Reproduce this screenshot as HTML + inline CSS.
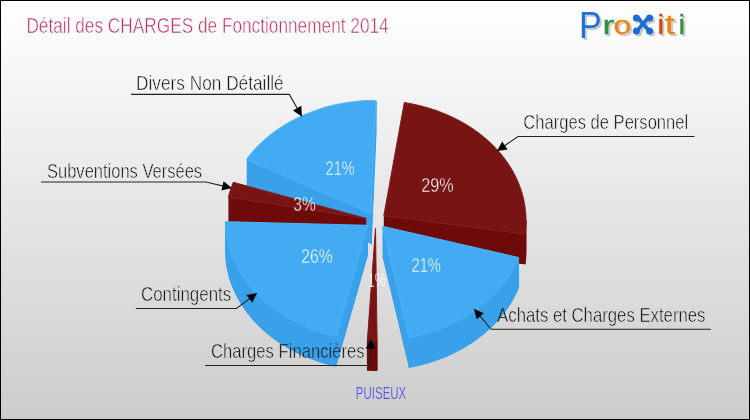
<!DOCTYPE html>
<html lang="fr">
<head>
<meta charset="utf-8">
<title>Détail des CHARGES de Fonctionnement 2014 - PUISEUX</title>
<style>
html,body{margin:0;padding:0;background:#fff;}
body{width:750px;height:420px;overflow:hidden;}
svg{display:block;font-family:"Liberation Sans",sans-serif;}
text{white-space:pre;}
.thin{stroke:url(#bgp);stroke-width:0.55px;}
.w{stroke:url(#bgp);stroke-width:0.4px;}
.thin2{stroke:url(#bgp);stroke-width:0.2px;}
</style>
</head>
<body>
<svg width="750" height="420" viewBox="0 0 750 420">
<defs>
<filter id="lsh" x="-5%" y="-20%" width="110%" height="150%" color-interpolation-filters="sRGB">
<feGaussianBlur in="SourceAlpha" stdDeviation="0.6" result="b"/>
<feOffset in="b" dx="1.6" dy="1.6" result="o"/>
<feFlood flood-color="#000" flood-opacity="0.2"/>
<feComposite in2="o" operator="in" result="s"/>
<feMerge><feMergeNode in="s"/><feMergeNode in="SourceGraphic"/></feMerge>
</filter>
<pattern id="bgp" patternUnits="userSpaceOnUse" x="0" y="0" width="750" height="420">
<use href="#bgrect"/><use href="#pie"/>
</pattern>
<linearGradient id="bg" gradientUnits="userSpaceOnUse" x1="0" y1="0" x2="0" y2="420">
<stop offset="0" stop-color="#ffffff"/><stop offset="1" stop-color="#cccccc"/>
</linearGradient>
</defs>
<rect id="bgrect" x="0" y="0" width="750" height="420" fill="url(#bg)"/>
<rect x="0.5" y="0.5" width="749" height="419" fill="none" stroke="#000" stroke-width="1"/>
<g id="pie">
<polygon points="370.8,243.5 375.8,130.4 374.7,130.4 373.6,130.4 372.6,130.4 371.5,130.4 370.5,130.4 369.4,130.5 368.4,130.5 367.3,130.5 366.3,130.6 365.2,130.6 364.1,130.7 363.1,130.8 362.0,130.9 361.0,130.9 359.9,131.0 358.9,131.1 357.8,131.2 356.8,131.3 355.7,131.4 354.7,131.5 353.6,131.7 352.6,131.8 351.6,131.9 350.5,132.1 349.5,132.2 348.4,132.3 347.4,132.5 346.4,132.7 345.3,132.8 344.3,133.0 343.3,133.2 342.2,133.4 341.2,133.6 340.2,133.8 339.2,134.0 338.1,134.2 337.1,134.4 336.1,134.6 335.1,134.8 334.1,135.1 333.0,135.3 332.0,135.5 331.0,135.8 330.0,136.0 329.0,136.3 328.0,136.6 327.0,136.8 326.0,137.1 325.0,137.4 324.0,137.7 323.0,138.0 322.0,138.3 321.1,138.6 320.1,138.9 319.1,139.2 318.1,139.5 317.1,139.9 316.2,140.2 315.2,140.5 314.2,140.9 313.3,141.2 312.3,141.6 311.4,141.9 310.4,142.3 309.5,142.7 308.5,143.0 307.6,143.4 306.6,143.8 305.7,144.2 304.8,144.6 303.8,145.0 302.9,145.4 302.0,145.8 301.1,146.2 300.2,146.7 299.2,147.1 298.3,147.5 297.4,148.0 296.5,148.4 295.6,148.8 294.7,149.3 293.9,149.7 293.0,150.2 292.1,150.7 291.2,151.2 290.3,151.6 289.5,152.1 288.6,152.6 287.8,153.1 286.9,153.6 286.1,154.1 285.2,154.6 284.4,155.1 283.5,155.6 282.7,156.1 281.9,156.7 281.1,157.2 280.2,157.7 279.4,158.3 278.6,158.8 277.8,159.4 277.0,159.9 276.2,160.5 275.4,161.0 274.6,161.6 273.9,162.2 273.1,162.7 272.3,163.3 271.6,163.9 270.8,164.5 270.0,165.1 269.3,165.7 268.6,166.3 267.8,166.9 267.1,167.5 266.4,168.1 265.6,168.7 264.9,169.3 264.2,170.0 263.5,170.6 262.8,171.2 262.1,171.9 261.4,172.5 260.7,173.1 260.1,173.8 259.4,174.4 258.7,175.1 258.1,175.8 257.4,176.4 256.8,177.1 256.1,177.8 255.5,178.4 254.9,179.1 254.2,179.8 253.6,180.5 253.0,181.2 252.4,181.9 251.8,182.5 251.2,183.2 250.6,183.9 250.0,184.7 249.5,185.4 248.9,186.1 248.3,186.8 247.8,187.5 247.2,188.2 246.7,188.9 246.6,189.1" fill="#2e97e0"/>
<polygon points="366.1,248.4 233.3,212.3 232.9,213.1 232.6,213.9 232.3,214.7 232.0,215.5 231.7,216.3 231.4,217.1 231.1,218.0 230.8,218.8 230.5,219.6 230.3,220.4 230.0,221.2 229.8,222.0 229.5,222.9 229.3,223.7 229.0,224.5 228.8,225.3 228.6,226.2 228.4,227.0 228.3,227.3" fill="#640000"/>
<polygon points="367.8,255.3 225.5,251.7 225.5,252.5 225.5,253.3 225.6,254.2 225.6,255.0 225.7,255.9 225.7,256.7 225.8,257.6 225.8,258.4 225.9,259.2 226.0,260.1 226.1,260.9 226.2,261.8 226.3,262.6 226.4,263.4 226.5,264.3 226.6,265.1 226.8,266.0 226.9,266.8 227.1,267.6 227.2,268.5 227.4,269.3 227.5,270.1 227.7,271.0 227.9,271.8 228.1,272.6 228.3,273.5 228.5,274.3 228.7,275.1 228.9,275.9 229.2,276.8 229.4,277.6 229.6,278.4 229.9,279.2 230.2,280.0 230.4,280.9 230.7,281.7 231.0,282.5 231.3,283.3 231.5,284.1 231.8,284.9 232.2,285.7 232.5,286.5 232.8,287.3 233.1,288.1 233.5,288.9 233.8,289.7 234.1,290.5 234.5,291.3 234.9,292.1 235.2,292.9 235.6,293.7 236.0,294.5 236.4,295.3 236.8,296.1 237.2,296.8 237.6,297.6 238.0,298.4 238.4,299.2 238.9,299.9 239.3,300.7 239.8,301.5 240.2,302.2 240.7,303.0 241.1,303.7 241.6,304.5 242.1,305.2 242.6,306.0 243.1,306.7 243.6,307.5 244.1,308.2 244.6,309.0 245.1,309.7 245.6,310.4 246.2,311.2 246.7,311.9 247.2,312.6 247.8,313.3 248.4,314.0 248.9,314.8 249.5,315.5 250.1,316.2 250.6,316.9 251.2,317.6 251.8,318.3 252.4,319.0 253.0,319.7 253.6,320.4 254.3,321.0 254.9,321.7 255.5,322.4 256.2,323.1 256.8,323.7 257.4,324.4 258.1,325.1 258.8,325.7 259.4,326.4 260.1,327.0 260.8,327.7 261.5,328.3 262.1,329.0 262.8,329.6 263.5,330.2 264.2,330.9 265.0,331.5 265.7,332.1 266.4,332.7 267.1,333.3 267.9,333.9 268.6,334.5 269.3,335.1 270.1,335.7 270.8,336.3 271.6,336.9 272.4,337.5 273.1,338.1 273.9,338.7 274.7,339.2 275.5,339.8 276.3,340.4 277.0,340.9 277.8,341.5 278.6,342.0 279.5,342.6 280.3,343.1 281.1,343.6 281.9,344.2 282.7,344.7 283.6,345.2 284.4,345.7 285.2,346.2 286.1,346.7 286.9,347.2 287.8,347.7 288.7,348.2 289.5,348.7 290.4,349.2 291.3,349.7 292.1,350.1 293.0,350.6 293.9,351.1 294.8,351.5 295.7,352.0 296.6,352.4 297.5,352.9 298.4,353.3 299.3,353.7 300.2,354.2 301.1,354.6 302.0,355.0 302.9,355.4 303.9,355.8 304.8,356.2 305.7,356.6 306.7,357.0 307.6,357.4 308.6,357.8 309.5,358.1 310.5,358.5 311.4,358.9 312.4,359.2 313.3,359.6 314.3,359.9 315.2,360.3 316.2,360.6 317.2,361.0 318.2,361.3 319.1,361.6 320.1,361.9 321.1,362.2 322.1,362.5 323.1,362.8 324.1,363.1 325.1,363.4 326.1,363.7 327.0,364.0 328.0,364.2 329.1,364.5 330.1,364.8 331.1,365.0 332.1,365.3 333.1,365.5 334.1,365.7 335.1,366.0 336.1,366.2" fill="#2e97e0"/>
<polygon points="375.5,258.4 367.4,370.3 368.4,370.3 369.5,370.3 370.5,370.4 371.6,370.4 372.6,370.4 373.7,370.4 374.8,370.4 375.8,370.4 376.9,370.4 377.1,370.4" fill="#640000"/>
<polygon points="382.5,256.3 409.0,367.5 410.1,367.3 411.1,367.1 412.1,366.9 413.1,366.7 414.2,366.5 415.2,366.2 416.2,366.0 417.2,365.8 418.2,365.6 419.2,365.3 420.3,365.1 421.3,364.8 422.3,364.6 423.3,364.3 424.3,364.0 425.3,363.7 426.3,363.5 427.3,363.2 428.3,362.9 429.2,362.6 430.2,362.3 431.2,362.0 432.2,361.7 433.2,361.3 434.1,361.0 435.1,360.7 436.1,360.3 437.0,360.0 438.0,359.7 439.0,359.3 439.9,358.9 440.9,358.6 441.8,358.2 442.8,357.8 443.7,357.5 444.7,357.1 445.6,356.7 446.5,356.3 447.5,355.9 448.4,355.5 449.3,355.1 450.2,354.7 451.1,354.2 452.1,353.8 453.0,353.4 453.9,352.9 454.8,352.5 455.7,352.1 456.6,351.6 457.4,351.2 458.3,350.7 459.2,350.2 460.1,349.8 461.0,349.3 461.8,348.8 462.7,348.3 463.6,347.8 464.4,347.3 465.3,346.8 466.1,346.3 466.9,345.8 467.8,345.3 468.6,344.8 469.4,344.3 470.3,343.7 471.1,343.2 471.9,342.7 472.7,342.1 473.5,341.6 474.3,341.0 475.1,340.5 475.9,339.9 476.7,339.3 477.5,338.8 478.2,338.2 479.0,337.6 479.8,337.0 480.5,336.4 481.3,335.8 482.0,335.3 482.8,334.7 483.5,334.1 484.3,333.4 485.0,332.8 485.7,332.2 486.4,331.6 487.1,331.0 487.8,330.3 488.5,329.7 489.2,329.1 489.9,328.4 490.6,327.8 491.3,327.2 492.0,326.5 492.6,325.8 493.3,325.2 493.9,324.5 494.6,323.9 495.2,323.2 495.9,322.5 496.5,321.8 497.1,321.2 497.7,320.5 498.4,319.8 499.0,319.1 499.6,318.4 500.2,317.7 500.8,317.0 501.3,316.3 501.9,315.6 502.5,314.9 503.0,314.2 503.6,313.5 504.2,312.7 504.7,312.0 505.2,311.3 505.8,310.6 506.3,309.8 506.8,309.1 507.3,308.4 507.8,307.6 508.3,306.9 508.8,306.1 509.3,305.4 509.8,304.6 510.3,303.9 510.7,303.1 511.2,302.4 511.7,301.6 512.1,300.8 512.5,300.1 513.0,299.3 513.4,298.5 513.8,297.7 514.2,297.0 514.6,296.2 515.0,295.4 515.4,294.6 515.8,293.8 516.2,293.1 516.6,292.3 516.9,291.5 517.3,290.7 517.6,289.9 518.0,289.1 518.3,288.3 518.6,287.5" fill="#2e97e0"/>
<polygon points="383.8,245.7 525.0,264.2 525.1,263.4 525.2,262.5 525.3,261.7 525.4,260.8 525.5,260.0 525.6,259.2 525.7,258.3 525.7,257.5 525.8,256.6 525.8,255.8 525.9,254.9 525.9,254.1 526.0,253.3 526.0,252.4 526.0,251.6 526.0,250.7 526.0,249.9 526.0,249.0 526.0,248.2 526.0,247.4 525.9,246.5 525.9,245.7 525.8,244.8 525.8,244.0 525.7,243.1 525.7,242.3 525.6,241.5 525.5,240.6 525.4,239.8 525.3,238.9 525.2,238.1 525.1,237.2 525.0,236.4 524.8,235.6 524.7,234.7 524.6,233.9 524.4,233.1 524.3,232.2 524.1,231.4 523.9,230.6 523.8,229.7 523.6,228.9 523.4,228.1 523.2,227.2 523.0,226.4 522.8,225.6 522.5,224.8 522.3,223.9 522.1,223.1 521.8,222.3 521.6,221.5 521.3,220.7 521.1,219.8 520.8,219.0 520.5,218.2 520.2,217.4 519.9,216.6 519.6,215.8 519.3,215.0 519.0,214.2 518.7,213.4 518.3,212.6 518.0,211.8 517.7,211.0 517.3,210.2 517.0,209.4 516.6,208.6 516.2,207.8 515.8,207.0 515.5,206.2 515.1,205.4 514.7,204.7 514.3,203.9 513.8,203.1 513.4,202.3 513.0,201.5 512.6,200.8 512.1,200.0 511.7,199.2 511.2,198.5 510.8,197.7 510.3,197.0 509.8,196.2 509.3,195.5 508.9,194.7 508.4,194.0 507.9,193.2 507.4,192.5 506.8,191.7 506.3,191.0 505.8,190.3 505.3,189.5 504.7,188.8 504.2,188.1 503.6,187.4 503.1,186.7 502.5,186.0 501.9,185.2 501.4,184.5 500.8,183.8 500.2,183.1 499.6,182.4 499.0,181.7 498.4,181.0 497.8,180.4 497.2,179.7 496.5,179.0 495.9,178.3 495.3,177.6 494.6,177.0 494.0,176.3 493.3,175.6 492.7,175.0 492.0,174.3 491.3,173.7 490.6,173.0 490.0,172.4 489.3,171.8 488.6,171.1 487.9,170.5 487.2,169.9 486.5,169.2 485.7,168.6 485.0,168.0 484.3,167.4 483.6,166.8 482.8,166.2 482.1,165.6 481.3,165.0 480.6,164.4 479.8,163.8 479.0,163.2 478.3,162.6 477.5,162.1 476.7,161.5 475.9,160.9 475.1,160.4 474.4,159.8 473.6,159.3 472.8,158.7 471.9,158.2 471.1,157.6 470.3,157.1 469.5,156.6 468.7,156.1 467.8,155.5 467.0,155.0 466.1,154.5 465.3,154.0 464.5,153.5 463.6,153.0 462.7,152.5 461.9,152.0 461.0,151.5 460.1,151.1 459.3,150.6 458.4,150.1 457.5,149.7 456.6,149.2 455.7,148.8 454.8,148.3 453.9,147.9 453.0,147.4 452.1,147.0 451.2,146.6 450.3,146.2 449.4,145.7 448.4,145.3 447.5,144.9 446.6,144.5 445.6,144.1 444.7,143.7 443.8,143.4 442.8,143.0 441.9,142.6 440.9,142.2 440.0,141.9 439.0,141.5 438.1,141.2 437.1,140.8 436.1,140.5 435.2,140.1 434.2,139.8 433.2,139.5 432.2,139.2 431.3,138.8 430.3,138.5 429.3,138.2 428.3,137.9 427.3,137.6 426.3,137.4 425.3,137.1 424.3,136.8 423.3,136.5 422.3,136.3 421.3,136.0 420.3,135.8 419.3,135.5 418.3,135.3 417.3,135.0 416.3,134.8 415.2,134.6 414.2,134.4 413.2,134.1 412.2,133.9 411.1,133.7 410.1,133.5 409.1,133.3 408.1,133.2 407.0,133.0 406.0,132.8 405.0,132.6 404.3,132.5" fill="#640000"/>
<polygon points="383.8,245.7 383.8,215.7 525.0,234.2 525.0,264.2" fill="#6e0a0a"/>
<polygon points="382.5,256.3 382.5,226.3 409.0,337.5 409.0,367.5" fill="#38a1ea"/>
<polygon points="375.5,258.4 375.5,228.4 367.4,340.3 367.4,370.3" fill="#6e0a0a"/>
<polygon points="367.8,255.3 367.8,225.3 225.5,221.7 225.5,251.7" fill="#38a1ea"/>
<polygon points="366.1,248.4 366.1,218.4 233.3,182.3 233.3,212.3" fill="#6e0a0a"/>
<polygon points="371.2,244.5 371.2,214.5 376.1,101.4 376.1,131.4" fill="#38a1ea" stroke="#38a1ea"/>
<polygon points="370.9,243.5 370.9,213.5 246.7,159.1 246.7,189.1" fill="#38a1ea"/>
<polygon points="366.2,248.4 366.2,218.4 228.4,197.3 228.4,227.3" fill="#6e0a0a"/>
<polygon points="367.9,255.3 367.9,225.3 336.2,336.2 336.2,366.2" fill="#38a1ea"/>
<polygon points="225.5,221.7 225.5,222.5 225.5,223.3 225.6,224.2 225.6,225.0 225.7,225.9 225.7,226.7 225.8,227.6 225.8,228.4 225.9,229.2 226.0,230.1 226.1,230.9 226.2,231.8 226.3,232.6 226.4,233.4 226.5,234.3 226.6,235.1 226.8,236.0 226.9,236.8 227.1,237.6 227.2,238.5 227.4,239.3 227.5,240.1 227.7,241.0 227.9,241.8 228.1,242.6 228.3,243.5 228.5,244.3 228.7,245.1 228.9,245.9 229.2,246.8 229.4,247.6 229.6,248.4 229.9,249.2 230.2,250.0 230.4,250.9 230.7,251.7 231.0,252.5 231.3,253.3 231.5,254.1 231.8,254.9 232.2,255.7 232.5,256.5 232.8,257.3 233.1,258.1 233.5,258.9 233.8,259.7 234.1,260.5 234.5,261.3 234.9,262.1 235.2,262.9 235.6,263.7 236.0,264.5 236.4,265.3 236.8,266.1 237.2,266.8 237.6,267.6 238.0,268.4 238.4,269.2 238.9,269.9 239.3,270.7 239.8,271.5 240.2,272.2 240.7,273.0 241.1,273.7 241.6,274.5 242.1,275.2 242.6,276.0 243.1,276.7 243.6,277.5 244.1,278.2 244.6,279.0 245.1,279.7 245.6,280.4 246.2,281.2 246.7,281.9 247.2,282.6 247.8,283.3 248.4,284.0 248.9,284.8 249.5,285.5 250.1,286.2 250.6,286.9 251.2,287.6 251.8,288.3 252.4,289.0 253.0,289.7 253.6,290.4 254.3,291.0 254.9,291.7 255.5,292.4 256.2,293.1 256.8,293.7 257.4,294.4 258.1,295.1 258.8,295.7 259.4,296.4 260.1,297.0 260.8,297.7 261.5,298.3 262.1,299.0 262.8,299.6 263.5,300.2 264.2,300.9 265.0,301.5 265.7,302.1 266.4,302.7 267.1,303.3 267.9,303.9 268.6,304.5 269.3,305.1 270.1,305.7 270.8,306.3 271.6,306.9 272.4,307.5 273.1,308.1 273.9,308.7 274.7,309.2 275.5,309.8 276.3,310.4 277.0,310.9 277.8,311.5 278.6,312.0 279.5,312.6 280.3,313.1 281.1,313.6 281.9,314.2 282.7,314.7 283.6,315.2 284.4,315.7 285.2,316.2 286.1,316.7 286.9,317.2 287.8,317.7 288.7,318.2 289.5,318.7 290.4,319.2 291.3,319.7 292.1,320.1 293.0,320.6 293.9,321.1 294.8,321.5 295.7,322.0 296.6,322.4 297.5,322.9 298.4,323.3 299.3,323.7 300.2,324.2 301.1,324.6 302.0,325.0 302.9,325.4 303.9,325.8 304.8,326.2 305.7,326.6 306.7,327.0 307.6,327.4 308.6,327.8 309.5,328.1 310.5,328.5 311.4,328.9 312.4,329.2 313.3,329.6 314.3,329.9 315.2,330.3 316.2,330.6 317.2,331.0 318.2,331.3 319.1,331.6 320.1,331.9 321.1,332.2 322.1,332.5 323.1,332.8 324.1,333.1 325.1,333.4 326.1,333.7 327.0,334.0 328.0,334.2 329.1,334.5 330.1,334.8 331.1,335.0 332.1,335.3 333.1,335.5 334.1,335.7 335.1,336.0 336.1,336.2 336.1,366.2 335.1,366.0 334.1,365.7 333.1,365.5 332.1,365.3 331.1,365.0 330.1,364.8 329.1,364.5 328.0,364.2 327.0,364.0 326.1,363.7 325.1,363.4 324.1,363.1 323.1,362.8 322.1,362.5 321.1,362.2 320.1,361.9 319.1,361.6 318.2,361.3 317.2,361.0 316.2,360.6 315.2,360.3 314.3,359.9 313.3,359.6 312.4,359.2 311.4,358.9 310.5,358.5 309.5,358.1 308.6,357.8 307.6,357.4 306.7,357.0 305.7,356.6 304.8,356.2 303.9,355.8 302.9,355.4 302.0,355.0 301.1,354.6 300.2,354.2 299.3,353.7 298.4,353.3 297.5,352.9 296.6,352.4 295.7,352.0 294.8,351.5 293.9,351.1 293.0,350.6 292.1,350.1 291.3,349.7 290.4,349.2 289.5,348.7 288.7,348.2 287.8,347.7 286.9,347.2 286.1,346.7 285.2,346.2 284.4,345.7 283.6,345.2 282.7,344.7 281.9,344.2 281.1,343.6 280.3,343.1 279.5,342.6 278.6,342.0 277.8,341.5 277.0,340.9 276.3,340.4 275.5,339.8 274.7,339.2 273.9,338.7 273.1,338.1 272.4,337.5 271.6,336.9 270.8,336.3 270.1,335.7 269.3,335.1 268.6,334.5 267.9,333.9 267.1,333.3 266.4,332.7 265.7,332.1 265.0,331.5 264.2,330.9 263.5,330.2 262.8,329.6 262.1,329.0 261.5,328.3 260.8,327.7 260.1,327.0 259.4,326.4 258.8,325.7 258.1,325.1 257.4,324.4 256.8,323.7 256.2,323.1 255.5,322.4 254.9,321.7 254.3,321.0 253.6,320.4 253.0,319.7 252.4,319.0 251.8,318.3 251.2,317.6 250.6,316.9 250.1,316.2 249.5,315.5 248.9,314.8 248.4,314.0 247.8,313.3 247.2,312.6 246.7,311.9 246.2,311.2 245.6,310.4 245.1,309.7 244.6,309.0 244.1,308.2 243.6,307.5 243.1,306.7 242.6,306.0 242.1,305.2 241.6,304.5 241.1,303.7 240.7,303.0 240.2,302.2 239.8,301.5 239.3,300.7 238.9,299.9 238.4,299.2 238.0,298.4 237.6,297.6 237.2,296.8 236.8,296.1 236.4,295.3 236.0,294.5 235.6,293.7 235.2,292.9 234.9,292.1 234.5,291.3 234.1,290.5 233.8,289.7 233.5,288.9 233.1,288.1 232.8,287.3 232.5,286.5 232.2,285.7 231.8,284.9 231.5,284.1 231.3,283.3 231.0,282.5 230.7,281.7 230.4,280.9 230.2,280.0 229.9,279.2 229.6,278.4 229.4,277.6 229.2,276.8 228.9,275.9 228.7,275.1 228.5,274.3 228.3,273.5 228.1,272.6 227.9,271.8 227.7,271.0 227.5,270.1 227.4,269.3 227.2,268.5 227.1,267.6 226.9,266.8 226.8,266.0 226.6,265.1 226.5,264.3 226.4,263.4 226.3,262.6 226.2,261.8 226.1,260.9 226.0,260.1 225.9,259.2 225.8,258.4 225.8,257.6 225.7,256.7 225.7,255.9 225.6,255.0 225.6,254.2 225.5,253.3 225.5,252.5 225.5,251.7" fill="#38a1ea" stroke="#38a1ea"/>
<polygon points="367.4,340.3 368.4,340.3 369.5,340.3 370.5,340.4 371.6,340.4 372.6,340.4 373.7,340.4 374.8,340.4 375.8,340.4 376.9,340.4 377.1,340.4 377.1,370.4 376.9,370.4 375.8,370.4 374.8,370.4 373.7,370.4 372.6,370.4 371.6,370.4 370.5,370.4 369.5,370.3 368.4,370.3 367.4,370.3" fill="#6e0a0a" stroke="#6e0a0a"/>
<polygon points="409.0,337.5 410.1,337.3 411.1,337.1 412.1,336.9 413.1,336.7 414.2,336.5 415.2,336.2 416.2,336.0 417.2,335.8 418.2,335.6 419.2,335.3 420.3,335.1 421.3,334.8 422.3,334.6 423.3,334.3 424.3,334.0 425.3,333.7 426.3,333.5 427.3,333.2 428.3,332.9 429.2,332.6 430.2,332.3 431.2,332.0 432.2,331.7 433.2,331.3 434.1,331.0 435.1,330.7 436.1,330.3 437.0,330.0 438.0,329.7 439.0,329.3 439.9,328.9 440.9,328.6 441.8,328.2 442.8,327.8 443.7,327.5 444.7,327.1 445.6,326.7 446.5,326.3 447.5,325.9 448.4,325.5 449.3,325.1 450.2,324.7 451.1,324.2 452.1,323.8 453.0,323.4 453.9,322.9 454.8,322.5 455.7,322.1 456.6,321.6 457.4,321.2 458.3,320.7 459.2,320.2 460.1,319.8 461.0,319.3 461.8,318.8 462.7,318.3 463.6,317.8 464.4,317.3 465.3,316.8 466.1,316.3 466.9,315.8 467.8,315.3 468.6,314.8 469.4,314.3 470.3,313.7 471.1,313.2 471.9,312.7 472.7,312.1 473.5,311.6 474.3,311.0 475.1,310.5 475.9,309.9 476.7,309.3 477.5,308.8 478.2,308.2 479.0,307.6 479.8,307.0 480.5,306.4 481.3,305.8 482.0,305.3 482.8,304.7 483.5,304.1 484.3,303.4 485.0,302.8 485.7,302.2 486.4,301.6 487.1,301.0 487.8,300.3 488.5,299.7 489.2,299.1 489.9,298.4 490.6,297.8 491.3,297.2 492.0,296.5 492.6,295.8 493.3,295.2 493.9,294.5 494.6,293.9 495.2,293.2 495.9,292.5 496.5,291.8 497.1,291.2 497.7,290.5 498.4,289.8 499.0,289.1 499.6,288.4 500.2,287.7 500.8,287.0 501.3,286.3 501.9,285.6 502.5,284.9 503.0,284.2 503.6,283.5 504.2,282.7 504.7,282.0 505.2,281.3 505.8,280.6 506.3,279.8 506.8,279.1 507.3,278.4 507.8,277.6 508.3,276.9 508.8,276.1 509.3,275.4 509.8,274.6 510.3,273.9 510.7,273.1 511.2,272.4 511.7,271.6 512.1,270.8 512.5,270.1 513.0,269.3 513.4,268.5 513.8,267.7 514.2,267.0 514.6,266.2 515.0,265.4 515.4,264.6 515.8,263.8 516.2,263.1 516.6,262.3 516.9,261.5 517.3,260.7 517.6,259.9 518.0,259.1 518.3,258.3 518.6,257.5 518.6,287.5 518.3,288.3 518.0,289.1 517.6,289.9 517.3,290.7 516.9,291.5 516.6,292.3 516.2,293.1 515.8,293.8 515.4,294.6 515.0,295.4 514.6,296.2 514.2,297.0 513.8,297.7 513.4,298.5 513.0,299.3 512.5,300.1 512.1,300.8 511.7,301.6 511.2,302.4 510.7,303.1 510.3,303.9 509.8,304.6 509.3,305.4 508.8,306.1 508.3,306.9 507.8,307.6 507.3,308.4 506.8,309.1 506.3,309.8 505.8,310.6 505.2,311.3 504.7,312.0 504.2,312.7 503.6,313.5 503.0,314.2 502.5,314.9 501.9,315.6 501.3,316.3 500.8,317.0 500.2,317.7 499.6,318.4 499.0,319.1 498.4,319.8 497.7,320.5 497.1,321.2 496.5,321.8 495.9,322.5 495.2,323.2 494.6,323.9 493.9,324.5 493.3,325.2 492.6,325.8 492.0,326.5 491.3,327.2 490.6,327.8 489.9,328.4 489.2,329.1 488.5,329.7 487.8,330.3 487.1,331.0 486.4,331.6 485.7,332.2 485.0,332.8 484.3,333.4 483.5,334.1 482.8,334.7 482.0,335.3 481.3,335.8 480.5,336.4 479.8,337.0 479.0,337.6 478.2,338.2 477.5,338.8 476.7,339.3 475.9,339.9 475.1,340.5 474.3,341.0 473.5,341.6 472.7,342.1 471.9,342.7 471.1,343.2 470.3,343.7 469.4,344.3 468.6,344.8 467.8,345.3 466.9,345.8 466.1,346.3 465.3,346.8 464.4,347.3 463.6,347.8 462.7,348.3 461.8,348.8 461.0,349.3 460.1,349.8 459.2,350.2 458.3,350.7 457.4,351.2 456.6,351.6 455.7,352.1 454.8,352.5 453.9,352.9 453.0,353.4 452.1,353.8 451.1,354.2 450.2,354.7 449.3,355.1 448.4,355.5 447.5,355.9 446.5,356.3 445.6,356.7 444.7,357.1 443.7,357.5 442.8,357.8 441.8,358.2 440.9,358.6 439.9,358.9 439.0,359.3 438.0,359.7 437.0,360.0 436.1,360.3 435.1,360.7 434.1,361.0 433.2,361.3 432.2,361.7 431.2,362.0 430.2,362.3 429.2,362.6 428.3,362.9 427.3,363.2 426.3,363.5 425.3,363.7 424.3,364.0 423.3,364.3 422.3,364.6 421.3,364.8 420.3,365.1 419.2,365.3 418.2,365.6 417.2,365.8 416.2,366.0 415.2,366.2 414.2,366.5 413.1,366.7 412.1,366.9 411.1,367.1 410.1,367.3 409.0,367.5" fill="#38a1ea" stroke="#38a1ea"/>
<polygon points="525.0,234.2 525.1,233.4 525.2,232.5 525.3,231.7 525.4,230.8 525.5,230.0 525.6,229.2 525.7,228.3 525.7,227.5 525.8,226.6 525.8,225.8 525.9,224.9 525.9,224.1 526.0,223.3 526.0,222.4 526.0,221.6 526.0,220.7 526.0,219.9 526.0,249.9 526.0,250.7 526.0,251.6 526.0,252.4 526.0,253.3 525.9,254.1 525.9,254.9 525.8,255.8 525.8,256.6 525.7,257.5 525.7,258.3 525.6,259.2 525.5,260.0 525.4,260.8 525.3,261.7 525.2,262.5 525.1,263.4 525.0,264.2" fill="#6e0a0a" stroke="#6e0a0a"/>
<polygon points="370.8,213.5 375.8,100.4 374.7,100.4 373.6,100.4 372.6,100.4 371.5,100.4 370.5,100.4 369.4,100.5 368.4,100.5 367.3,100.5 366.3,100.6 365.2,100.6 364.1,100.7 363.1,100.8 362.0,100.9 361.0,100.9 359.9,101.0 358.9,101.1 357.8,101.2 356.8,101.3 355.7,101.4 354.7,101.5 353.6,101.7 352.6,101.8 351.6,101.9 350.5,102.1 349.5,102.2 348.4,102.3 347.4,102.5 346.4,102.7 345.3,102.8 344.3,103.0 343.3,103.2 342.2,103.4 341.2,103.6 340.2,103.8 339.2,104.0 338.1,104.2 337.1,104.4 336.1,104.6 335.1,104.8 334.1,105.1 333.0,105.3 332.0,105.5 331.0,105.8 330.0,106.0 329.0,106.3 328.0,106.6 327.0,106.8 326.0,107.1 325.0,107.4 324.0,107.7 323.0,108.0 322.0,108.3 321.1,108.6 320.1,108.9 319.1,109.2 318.1,109.5 317.1,109.9 316.2,110.2 315.2,110.5 314.2,110.9 313.3,111.2 312.3,111.6 311.4,111.9 310.4,112.3 309.5,112.7 308.5,113.0 307.6,113.4 306.6,113.8 305.7,114.2 304.8,114.6 303.8,115.0 302.9,115.4 302.0,115.8 301.1,116.2 300.2,116.7 299.2,117.1 298.3,117.5 297.4,118.0 296.5,118.4 295.6,118.8 294.7,119.3 293.9,119.7 293.0,120.2 292.1,120.7 291.2,121.2 290.3,121.6 289.5,122.1 288.6,122.6 287.8,123.1 286.9,123.6 286.1,124.1 285.2,124.6 284.4,125.1 283.5,125.6 282.7,126.1 281.9,126.7 281.1,127.2 280.2,127.7 279.4,128.3 278.6,128.8 277.8,129.4 277.0,129.9 276.2,130.5 275.4,131.0 274.6,131.6 273.9,132.2 273.1,132.7 272.3,133.3 271.6,133.9 270.8,134.5 270.0,135.1 269.3,135.7 268.6,136.3 267.8,136.9 267.1,137.5 266.4,138.1 265.6,138.7 264.9,139.3 264.2,140.0 263.5,140.6 262.8,141.2 262.1,141.9 261.4,142.5 260.7,143.1 260.1,143.8 259.4,144.4 258.7,145.1 258.1,145.8 257.4,146.4 256.8,147.1 256.1,147.8 255.5,148.4 254.9,149.1 254.2,149.8 253.6,150.5 253.0,151.2 252.4,151.9 251.8,152.5 251.2,153.2 250.6,153.9 250.0,154.7 249.5,155.4 248.9,156.1 248.3,156.8 247.8,157.5 247.2,158.2 246.7,158.9 246.6,159.1" fill="#42abf4" stroke="#4cb5fe"/>
<polygon points="366.1,218.4 233.3,182.3 232.9,183.1 232.6,183.9 232.3,184.7 232.0,185.5 231.7,186.3 231.4,187.1 231.1,188.0 230.8,188.8 230.5,189.6 230.3,190.4 230.0,191.2 229.8,192.0 229.5,192.9 229.3,193.7 229.0,194.5 228.8,195.3 228.6,196.2 228.4,197.0 228.3,197.3" fill="#781414" stroke="#821e1e"/>
<polygon points="367.8,225.3 225.5,221.7 225.5,222.5 225.5,223.3 225.6,224.2 225.6,225.0 225.7,225.9 225.7,226.7 225.8,227.6 225.8,228.4 225.9,229.2 226.0,230.1 226.1,230.9 226.2,231.8 226.3,232.6 226.4,233.4 226.5,234.3 226.6,235.1 226.8,236.0 226.9,236.8 227.1,237.6 227.2,238.5 227.4,239.3 227.5,240.1 227.7,241.0 227.9,241.8 228.1,242.6 228.3,243.5 228.5,244.3 228.7,245.1 228.9,245.9 229.2,246.8 229.4,247.6 229.6,248.4 229.9,249.2 230.2,250.0 230.4,250.9 230.7,251.7 231.0,252.5 231.3,253.3 231.5,254.1 231.8,254.9 232.2,255.7 232.5,256.5 232.8,257.3 233.1,258.1 233.5,258.9 233.8,259.7 234.1,260.5 234.5,261.3 234.9,262.1 235.2,262.9 235.6,263.7 236.0,264.5 236.4,265.3 236.8,266.1 237.2,266.8 237.6,267.6 238.0,268.4 238.4,269.2 238.9,269.9 239.3,270.7 239.8,271.5 240.2,272.2 240.7,273.0 241.1,273.7 241.6,274.5 242.1,275.2 242.6,276.0 243.1,276.7 243.6,277.5 244.1,278.2 244.6,279.0 245.1,279.7 245.6,280.4 246.2,281.2 246.7,281.9 247.2,282.6 247.8,283.3 248.4,284.0 248.9,284.8 249.5,285.5 250.1,286.2 250.6,286.9 251.2,287.6 251.8,288.3 252.4,289.0 253.0,289.7 253.6,290.4 254.3,291.0 254.9,291.7 255.5,292.4 256.2,293.1 256.8,293.7 257.4,294.4 258.1,295.1 258.8,295.7 259.4,296.4 260.1,297.0 260.8,297.7 261.5,298.3 262.1,299.0 262.8,299.6 263.5,300.2 264.2,300.9 265.0,301.5 265.7,302.1 266.4,302.7 267.1,303.3 267.9,303.9 268.6,304.5 269.3,305.1 270.1,305.7 270.8,306.3 271.6,306.9 272.4,307.5 273.1,308.1 273.9,308.7 274.7,309.2 275.5,309.8 276.3,310.4 277.0,310.9 277.8,311.5 278.6,312.0 279.5,312.6 280.3,313.1 281.1,313.6 281.9,314.2 282.7,314.7 283.6,315.2 284.4,315.7 285.2,316.2 286.1,316.7 286.9,317.2 287.8,317.7 288.7,318.2 289.5,318.7 290.4,319.2 291.3,319.7 292.1,320.1 293.0,320.6 293.9,321.1 294.8,321.5 295.7,322.0 296.6,322.4 297.5,322.9 298.4,323.3 299.3,323.7 300.2,324.2 301.1,324.6 302.0,325.0 302.9,325.4 303.9,325.8 304.8,326.2 305.7,326.6 306.7,327.0 307.6,327.4 308.6,327.8 309.5,328.1 310.5,328.5 311.4,328.9 312.4,329.2 313.3,329.6 314.3,329.9 315.2,330.3 316.2,330.6 317.2,331.0 318.2,331.3 319.1,331.6 320.1,331.9 321.1,332.2 322.1,332.5 323.1,332.8 324.1,333.1 325.1,333.4 326.1,333.7 327.0,334.0 328.0,334.2 329.1,334.5 330.1,334.8 331.1,335.0 332.1,335.3 333.1,335.5 334.1,335.7 335.1,336.0 336.1,336.2" fill="#42abf4" stroke="#4cb5fe"/>
<polygon points="375.5,228.4 367.4,340.3 368.4,340.3 369.5,340.3 370.5,340.4 371.6,340.4 372.6,340.4 373.7,340.4 374.8,340.4 375.8,340.4 376.9,340.4 377.1,340.4" fill="#781414" stroke="#821e1e"/>
<polygon points="382.5,226.3 409.0,337.5 410.1,337.3 411.1,337.1 412.1,336.9 413.1,336.7 414.2,336.5 415.2,336.2 416.2,336.0 417.2,335.8 418.2,335.6 419.2,335.3 420.3,335.1 421.3,334.8 422.3,334.6 423.3,334.3 424.3,334.0 425.3,333.7 426.3,333.5 427.3,333.2 428.3,332.9 429.2,332.6 430.2,332.3 431.2,332.0 432.2,331.7 433.2,331.3 434.1,331.0 435.1,330.7 436.1,330.3 437.0,330.0 438.0,329.7 439.0,329.3 439.9,328.9 440.9,328.6 441.8,328.2 442.8,327.8 443.7,327.5 444.7,327.1 445.6,326.7 446.5,326.3 447.5,325.9 448.4,325.5 449.3,325.1 450.2,324.7 451.1,324.2 452.1,323.8 453.0,323.4 453.9,322.9 454.8,322.5 455.7,322.1 456.6,321.6 457.4,321.2 458.3,320.7 459.2,320.2 460.1,319.8 461.0,319.3 461.8,318.8 462.7,318.3 463.6,317.8 464.4,317.3 465.3,316.8 466.1,316.3 466.9,315.8 467.8,315.3 468.6,314.8 469.4,314.3 470.3,313.7 471.1,313.2 471.9,312.7 472.7,312.1 473.5,311.6 474.3,311.0 475.1,310.5 475.9,309.9 476.7,309.3 477.5,308.8 478.2,308.2 479.0,307.6 479.8,307.0 480.5,306.4 481.3,305.8 482.0,305.3 482.8,304.7 483.5,304.1 484.3,303.4 485.0,302.8 485.7,302.2 486.4,301.6 487.1,301.0 487.8,300.3 488.5,299.7 489.2,299.1 489.9,298.4 490.6,297.8 491.3,297.2 492.0,296.5 492.6,295.8 493.3,295.2 493.9,294.5 494.6,293.9 495.2,293.2 495.9,292.5 496.5,291.8 497.1,291.2 497.7,290.5 498.4,289.8 499.0,289.1 499.6,288.4 500.2,287.7 500.8,287.0 501.3,286.3 501.9,285.6 502.5,284.9 503.0,284.2 503.6,283.5 504.2,282.7 504.7,282.0 505.2,281.3 505.8,280.6 506.3,279.8 506.8,279.1 507.3,278.4 507.8,277.6 508.3,276.9 508.8,276.1 509.3,275.4 509.8,274.6 510.3,273.9 510.7,273.1 511.2,272.4 511.7,271.6 512.1,270.8 512.5,270.1 513.0,269.3 513.4,268.5 513.8,267.7 514.2,267.0 514.6,266.2 515.0,265.4 515.4,264.6 515.8,263.8 516.2,263.1 516.6,262.3 516.9,261.5 517.3,260.7 517.6,259.9 518.0,259.1 518.3,258.3 518.6,257.5" fill="#42abf4" stroke="#4cb5fe"/>
<polygon points="383.8,215.7 525.0,234.2 525.1,233.4 525.2,232.5 525.3,231.7 525.4,230.8 525.5,230.0 525.6,229.2 525.7,228.3 525.7,227.5 525.8,226.6 525.8,225.8 525.9,224.9 525.9,224.1 526.0,223.3 526.0,222.4 526.0,221.6 526.0,220.7 526.0,219.9 526.0,219.0 526.0,218.2 526.0,217.4 525.9,216.5 525.9,215.7 525.8,214.8 525.8,214.0 525.7,213.1 525.7,212.3 525.6,211.5 525.5,210.6 525.4,209.8 525.3,208.9 525.2,208.1 525.1,207.2 525.0,206.4 524.8,205.6 524.7,204.7 524.6,203.9 524.4,203.1 524.3,202.2 524.1,201.4 523.9,200.6 523.8,199.7 523.6,198.9 523.4,198.1 523.2,197.2 523.0,196.4 522.8,195.6 522.5,194.8 522.3,193.9 522.1,193.1 521.8,192.3 521.6,191.5 521.3,190.7 521.1,189.8 520.8,189.0 520.5,188.2 520.2,187.4 519.9,186.6 519.6,185.8 519.3,185.0 519.0,184.2 518.7,183.4 518.3,182.6 518.0,181.8 517.7,181.0 517.3,180.2 517.0,179.4 516.6,178.6 516.2,177.8 515.8,177.0 515.5,176.2 515.1,175.4 514.7,174.7 514.3,173.9 513.8,173.1 513.4,172.3 513.0,171.5 512.6,170.8 512.1,170.0 511.7,169.2 511.2,168.5 510.8,167.7 510.3,167.0 509.8,166.2 509.3,165.5 508.9,164.7 508.4,164.0 507.9,163.2 507.4,162.5 506.8,161.7 506.3,161.0 505.8,160.3 505.3,159.5 504.7,158.8 504.2,158.1 503.6,157.4 503.1,156.7 502.5,156.0 501.9,155.2 501.4,154.5 500.8,153.8 500.2,153.1 499.6,152.4 499.0,151.7 498.4,151.0 497.8,150.4 497.2,149.7 496.5,149.0 495.9,148.3 495.3,147.6 494.6,147.0 494.0,146.3 493.3,145.6 492.7,145.0 492.0,144.3 491.3,143.7 490.6,143.0 490.0,142.4 489.3,141.8 488.6,141.1 487.9,140.5 487.2,139.9 486.5,139.2 485.7,138.6 485.0,138.0 484.3,137.4 483.6,136.8 482.8,136.2 482.1,135.6 481.3,135.0 480.6,134.4 479.8,133.8 479.0,133.2 478.3,132.6 477.5,132.1 476.7,131.5 475.9,130.9 475.1,130.4 474.4,129.8 473.6,129.3 472.8,128.7 471.9,128.2 471.1,127.6 470.3,127.1 469.5,126.6 468.7,126.1 467.8,125.5 467.0,125.0 466.1,124.5 465.3,124.0 464.5,123.5 463.6,123.0 462.7,122.5 461.9,122.0 461.0,121.5 460.1,121.1 459.3,120.6 458.4,120.1 457.5,119.7 456.6,119.2 455.7,118.8 454.8,118.3 453.9,117.9 453.0,117.4 452.1,117.0 451.2,116.6 450.3,116.2 449.4,115.7 448.4,115.3 447.5,114.9 446.6,114.5 445.6,114.1 444.7,113.7 443.8,113.4 442.8,113.0 441.9,112.6 440.9,112.2 440.0,111.9 439.0,111.5 438.1,111.2 437.1,110.8 436.1,110.5 435.2,110.1 434.2,109.8 433.2,109.5 432.2,109.2 431.3,108.8 430.3,108.5 429.3,108.2 428.3,107.9 427.3,107.6 426.3,107.4 425.3,107.1 424.3,106.8 423.3,106.5 422.3,106.3 421.3,106.0 420.3,105.8 419.3,105.5 418.3,105.3 417.3,105.0 416.3,104.8 415.2,104.6 414.2,104.4 413.2,104.1 412.2,103.9 411.1,103.7 410.1,103.5 409.1,103.3 408.1,103.2 407.0,103.0 406.0,102.8 405.0,102.6 404.3,102.5" fill="#781414" stroke="#821e1e"/>
</g>
<g id="labels">
<polyline points="131.0,94.4 289.3,94.4 301.9,116.5" fill="none" stroke="#222" stroke-width="1.1"/>
<polygon points="301.9,116.5 293.0,110.5 301.3,105.8" fill="#000"/>
<text x="136.0" y="89.8" font-size="20.4" fill="#101010" textLength="147.7" lengthAdjust="spacingAndGlyphs" class="thin">Divers Non Détaillé</text>
<polyline points="41.1,182.0 206.0,182.0 231.8,188.1" fill="none" stroke="#222" stroke-width="1.1"/>
<polygon points="231.8,188.1 221.4,190.6 223.6,181.2" fill="#000"/>
<text x="47.0" y="178.1" font-size="20.4" fill="#101010" textLength="155.1" lengthAdjust="spacingAndGlyphs" class="thin">Subventions Versées</text>
<polyline points="135.9,308.5 236.5,308.5 257.0,293.1" fill="none" stroke="#222" stroke-width="1.1"/>
<polygon points="257.0,293.1 252.2,302.7 246.4,295.0" fill="#000"/>
<text x="141.0" y="300.9" font-size="20.4" fill="#101010" textLength="90.2" lengthAdjust="spacingAndGlyphs" class="thin">Contingents</text>
<polyline points="205.1,365.5 370.1,365.5 370.8,339.0" fill="none" stroke="#222" stroke-width="1.1"/>
<polygon points="370.8,339.0 375.3,348.7 365.7,348.5" fill="#000"/>
<text x="211.0" y="357.8" font-size="20.4" fill="#101010" textLength="153.6" lengthAdjust="spacingAndGlyphs" class="thin">Charges Financières</text>
<polyline points="694.5,136.5 518.0,136.5 497.0,150.9" fill="none" stroke="#222" stroke-width="1.1"/>
<polygon points="497.0,150.9 502.2,141.5 507.6,149.4" fill="#000"/>
<text x="523.3" y="128.8" font-size="20.4" fill="#101010" textLength="164.9" lengthAdjust="spacingAndGlyphs" class="thin">Charges de Personnel</text>
<polyline points="710.9,329.3 491.2,329.3 474.1,308.9" fill="none" stroke="#222" stroke-width="1.1"/>
<polygon points="474.1,308.9 483.9,313.2 476.6,319.3" fill="#000"/>
<text x="497.1" y="321.6" font-size="20.4" fill="#101010" textLength="208.4" lengthAdjust="spacingAndGlyphs" class="thin">Achats et Charges Externes</text>
<text x="325.8" y="175.0" font-size="20.0" fill="#fff" textLength="28.9" lengthAdjust="spacingAndGlyphs" class="w">21%</text>
<text x="421.3" y="192.2" font-size="20.0" fill="#fff" textLength="32.4" lengthAdjust="spacingAndGlyphs" class="w">29%</text>
<text x="293.3" y="211.2" font-size="20.0" fill="#fff" textLength="22.4" lengthAdjust="spacingAndGlyphs" class="w">3%</text>
<text x="301.3" y="263.0" font-size="20.0" fill="#fff" textLength="31.3" lengthAdjust="spacingAndGlyphs" class="w">26%</text>
<text x="411.5" y="272.2" font-size="20.0" fill="#fff" textLength="29.4" lengthAdjust="spacingAndGlyphs" class="w">21%</text>
<text x="367.8" y="287.4" font-size="20.0" fill="#fff" textLength="18.3" lengthAdjust="spacingAndGlyphs" class="w">1%</text>
</g>
<g id="title">
<text x="26.4" y="32.7" font-size="21.2" fill="#c03468" textLength="362.3" lengthAdjust="spacingAndGlyphs" class="thin">Détail des CHARGES de Fonctionnement 2014</text>
<text x="355.8" y="398.9" font-size="17.4" fill="#5555ee" textLength="50.5" lengthAdjust="spacingAndGlyphs" class="thin2">PUISEUX</text>
</g>
<g id="logo">
<g filter="url(#lsh)" stroke-linejoin="round">
<text><tspan x="579.0" y="37.7" font-size="36.5" fill="#1f6fd2" textLength="22.7" lengthAdjust="spacingAndGlyphs" stroke="#1f6fd2" stroke-width="0">P</tspan><tspan x="602.5" y="33.7" font-size="26.0" fill="#2f8f3e" textLength="11.8" lengthAdjust="spacingAndGlyphs" stroke="#2f8f3e" stroke-width="0.3">r</tspan><tspan x="613.6" y="33.7" font-size="26.0" fill="#f0820f" textLength="17.8" lengthAdjust="spacingAndGlyphs" stroke="#f0820f" stroke-width="0.3">o</tspan><tspan x="635.2" y="31.3" font-size="26.0" fill="#1a6cd6" textLength="15.6" lengthAdjust="spacingAndGlyphs" stroke="#1a6cd6" stroke-width="1.3">x</tspan><tspan x="657.5" y="33.7" font-size="28.0" fill="#e2390f" textLength="6.6" lengthAdjust="spacingAndGlyphs" stroke="#e2390f" stroke-width="0.3">i</tspan><tspan x="664.7" y="33.7" font-size="27.0" fill="#f0820f" textLength="10.2" lengthAdjust="spacingAndGlyphs" stroke="#f0820f" stroke-width="0.3">t</tspan><tspan x="678.5" y="33.7" font-size="28.0" fill="#2f8f3e" textLength="6.6" lengthAdjust="spacingAndGlyphs" stroke="#2f8f3e" stroke-width="0.3">i</tspan></text>
<circle cx="636.4" cy="18.0" r="3.5" fill="#1a6cd6"/>
<circle cx="636.4" cy="30.9" r="3.5" fill="#1a6cd6"/>
<circle cx="649.6" cy="18.0" r="3.5" fill="#1a6cd6"/>
<circle cx="649.6" cy="30.9" r="3.5" fill="#1a6cd6"/>
</g>
</g>
</svg>
</body>
</html>
